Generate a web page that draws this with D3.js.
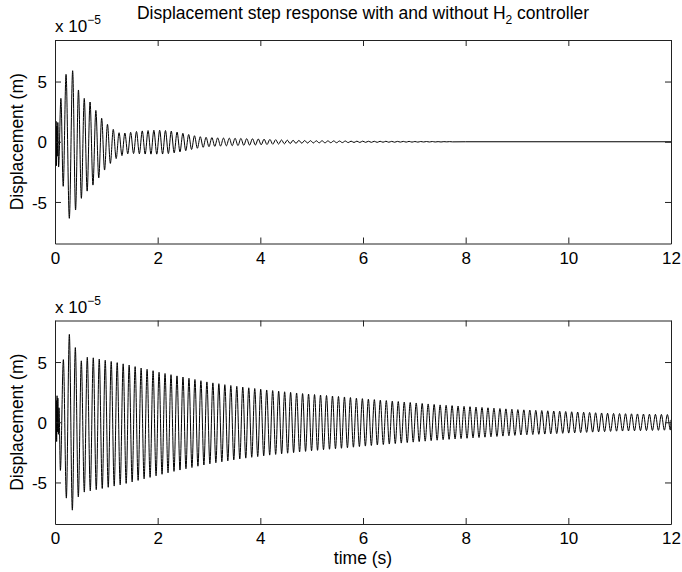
<!DOCTYPE html>
<html><head><meta charset="utf-8">
<script src="https://cdn.jsdelivr.net/npm/d3@7"></script>
<style>
body{margin:0;background:#fff}
svg{display:block}
text{font-family:"Liberation Sans",Arial,Helvetica,sans-serif;fill:#000}
</style>
</head><body>
<svg id="chart" width="682" height="572"></svg>
<script>
// ---------- data ----------
const xTicks = [0, 2, 4, 6, 8, 10, 12];
const yTicks = [-5, 0, 5];
const timeDomain = [0, 12];
const dispDomain = [-8.45, 8.45];
const titleMain = "Displacement step response with and without H";
const titleSub = "2";
const titleEnd = " controller";
const yLabel = "Displacement (m)";
const xLabel = "time (s)";
const exponentBase = "x 10";
const exponentPow = "\u22125";

// Top panel (with H2 controller): initial transient (t, value x1e-5)
const topStartT = [0, 0.007, 0.014, 0.021, 0.028, 0.036, 0.045, 0.055, 0.07, 0.115, 0.16, 0.215, 0.279];
const topStartV = [0, 1.4, -1.5, 1.7, -2.0, 1.3, -1.2, 1.6, -2.1, 3.6, -3.7, 5.6, -6.36];
// then one peak and one trough per oscillation cycle
const topCycleStart = 0.344;
const topCycleLen = 0.113;
const topPeaks = [5.9, 4.3, 3.6, 3.3, 2.6, 1.95, 1.45, 1.03, 0.75, 0.72,
  0.78, 0.85, 0.9, 0.93, 0.95, 0.95, 0.93, 0.88, 0.8, 0.7,
  0.6, 0.5, 0.42, 0.37, 0.34, 0.32, 0.31, 0.3, 0.29, 0.28,
  0.26, 0.25, 0.23, 0.21, 0.19, 0.17, 0.15, 0.13, 0.12, 0.11,
  0.1, 0.09, 0.08, 0.08, 0.07, 0.07, 0.06, 0.06, 0.05, 0.05,
  0.05, 0.04, 0.04, 0.04, 0.04, 0.03, 0.03, 0.03, 0.03, 0.02,
  0.02, 0.02, 0.02, 0.01, 0.01, 0.01];
const topTroughs = [-5.67, -4.7, -4.1, -3.6, -3.0, -2.35, -1.8, -1.4, -1.15, -1.0,
  -0.98, -1.0, -1.02, -1.03, -1.03, -1.02, -0.98, -0.92, -0.84, -0.74,
  -0.64, -0.54, -0.46, -0.41, -0.38, -0.36, -0.34, -0.33, -0.32, -0.3,
  -0.28, -0.27, -0.25, -0.23, -0.21, -0.19, -0.17, -0.15, -0.13, -0.12,
  -0.11, -0.1, -0.09, -0.09, -0.08, -0.08, -0.07, -0.07, -0.06, -0.06,
  -0.05, -0.05, -0.05, -0.04, -0.04, -0.04, -0.03, -0.03, -0.03, -0.03,
  -0.02, -0.02, -0.02, -0.02, -0.01, -0.01];
const topEndT = [8.0, 12];
const topEndV = [0, 0];

// Bottom panel (without controller)
const botStartT = [0, 0.008, 0.016, 0.024, 0.032, 0.040, 0.048, 0.056, 0.066, 0.078, 0.105];
const botStartV = [0, 1.2, -1.4, 1.8, -1.6, 2.2, -0.8, 2.0, -1.0, 1.2, -4.0];
const botCycleStart = 0.163;
const botCycleLen = 0.1165;
const botPeaks = [5.2, 7.3, 6.2, 5.1, 5.4, 5.35, 5.25, 5.15, 5.05, 4.95,
  4.85, 4.75, 4.62, 4.5, 4.4, 4.28, 4.15, 4.05, 3.95, 3.85,
  3.75, 3.65, 3.55, 3.45, 3.35, 3.27, 3.2, 3.12, 3.05, 2.98,
  2.92, 2.86, 2.8, 2.74, 2.68, 2.63, 2.58, 2.53, 2.48, 2.43,
  2.38, 2.34, 2.3, 2.26, 2.22, 2.18, 2.14, 2.1, 2.05, 2.0,
  1.96, 1.92, 1.88, 1.84, 1.8, 1.76, 1.72, 1.68, 1.64, 1.6,
  1.56, 1.52, 1.48, 1.44, 1.41, 1.38, 1.35, 1.32, 1.29, 1.26,
  1.23, 1.2, 1.17, 1.14, 1.11, 1.08, 1.05, 1.03, 1.01, 0.99,
  0.97, 0.95, 0.93, 0.91, 0.89, 0.87, 0.85, 0.83, 0.81, 0.79,
  0.77, 0.75, 0.73, 0.72, 0.71, 0.7, 0.69, 0.68, 0.67, 0.66,
  0.65, 0.64];
const botTroughs = [-6.3, -7.3, -6.2, -5.8, -5.7, -5.6, -5.5, -5.4, -5.3, -5.2,
  -5.08, -4.96, -4.83, -4.7, -4.58, -4.45, -4.32, -4.2, -4.08, -3.97,
  -3.86, -3.76, -3.65, -3.55, -3.45, -3.36, -3.28, -3.2, -3.12, -3.05,
  -2.98, -2.91, -2.85, -2.79, -2.73, -2.67, -2.62, -2.57, -2.52, -2.47,
  -2.42, -2.37, -2.33, -2.28, -2.24, -2.2, -2.16, -2.12, -2.07, -2.02,
  -1.98, -1.93, -1.89, -1.85, -1.81, -1.77, -1.73, -1.69, -1.65, -1.61,
  -1.57, -1.53, -1.49, -1.45, -1.42, -1.39, -1.36, -1.33, -1.3, -1.27,
  -1.24, -1.21, -1.18, -1.15, -1.12, -1.09, -1.06, -1.04, -1.02, -1.0,
  -0.98, -0.96, -0.94, -0.92, -0.9, -0.88, -0.86, -0.84, -0.82, -0.8,
  -0.78, -0.76, -0.74, -0.73, -0.72, -0.71, -0.7, -0.69, -0.68, -0.67,
  -0.66, -0.65];
const botEndT = [12];
const botEndV = [0.2];

// ---------- drawing ----------
function buildSeries(startT, startV, c0, cLen, peaks, troughs, endT, endV) {
  const pts = startT.map((t, i) => [t, startV[i]]);
  peaks.forEach((p, k) => {
    pts.push([c0 + k * cLen, p]);
    if (k < troughs.length) pts.push([c0 + (k + 0.5) * cLen, troughs[k]]);
  });
  endT.forEach((t, i) => pts.push([t, endV[i]]));
  return pts.filter(d => d[0] <= 12);
}

const svg = d3.select("#chart");
const left = 55, right = 671;
const panels = [
  {top: 40, bottom: 243.5, data: buildSeries(topStartT, topStartV, topCycleStart, topCycleLen, topPeaks, topTroughs, topEndT, topEndV)},
  {top: 320.5, bottom: 524, data: buildSeries(botStartT, botStartV, botCycleStart, botCycleLen, botPeaks, botTroughs, botEndT, botEndV)}
];
const tickLen = 6;
const fmt = d => String(d).replace("\u2212", "-");

panels.forEach((p, idx) => {
  const x = d3.scaleLinear().domain(timeDomain).range([left, right]);
  const y = d3.scaleLinear().domain(dispDomain).range([p.bottom, p.top]);
  const g = svg.append("g");

  const clipId = "clip" + idx;
  g.append("clipPath").attr("id", clipId).append("rect")
    .attr("x", left).attr("y", p.top).attr("width", right - left).attr("height", p.bottom - p.top);

  g.append("path").datum(p.data)
    .attr("clip-path", `url(#${clipId})`)
    .attr("fill", "none").attr("stroke", "#000").attr("stroke-width", 1)
    .attr("d", d3.line().x(d => x(d[0])).y(d => y(d[1])).curve(d3.curveMonotoneX));

  // axes (MATLAB box style, ticks inward)
  const axB = g.append("g").attr("transform", `translate(0,${p.bottom})`)
    .call(d3.axisBottom(x).tickValues(xTicks).tickSizeInner(-tickLen).tickSizeOuter(0).tickPadding(8).tickFormat(fmt));
  const axT = g.append("g").attr("transform", `translate(0,${p.top})`)
    .call(d3.axisTop(x).tickValues(xTicks).tickSizeInner(-tickLen).tickSizeOuter(0).tickFormat(""));
  const axL = g.append("g").attr("transform", `translate(${left},0)`)
    .call(d3.axisLeft(y).tickValues(yTicks).tickSizeInner(-tickLen).tickSizeOuter(0).tickPadding(8).tickFormat(fmt));
  const axR = g.append("g").attr("transform", `translate(${right},0)`)
    .call(d3.axisRight(y).tickValues(yTicks).tickSizeInner(-tickLen).tickSizeOuter(0).tickFormat(""));
  [axB, axT, axL, axR].forEach(a => {
    a.select(".domain").attr("stroke", "#222").attr("stroke-width", 1);
    a.selectAll(".tick line").attr("stroke", "#222");
    a.selectAll("text").attr("font-size", 17).attr("font-family", '"Liberation Sans",Arial,sans-serif').attr("fill", "#000");
  });
  axL.selectAll("text").attr("dy", "0.36em");

  // exponent
  const ex = g.append("text").attr("x", left).attr("y", p.top - 8).attr("font-size", 17);
  ex.append("tspan").text(exponentBase);
  ex.append("tspan").attr("dy", -8).attr("font-size", 12).text(exponentPow);

  // y label
  g.append("text").attr("transform", `translate(23,${(p.top + p.bottom) / 2}) rotate(-90)`)
    .attr("text-anchor", "middle").attr("font-size", 17.5).text(yLabel);
});

// title
const t = svg.append("text").attr("x", (left + right) / 2).attr("y", 19).attr("text-anchor", "middle").attr("font-size", 17.5);
t.append("tspan").text(titleMain);
t.append("tspan").attr("dy", 5).attr("font-size", 12).text(titleSub);
t.append("tspan").attr("dy", -5).text(titleEnd);

// x label
svg.append("text").attr("x", (left + right) / 2).attr("y", 564).attr("text-anchor", "middle").attr("font-size", 17.5).text(xLabel);
</script>
</body></html>
